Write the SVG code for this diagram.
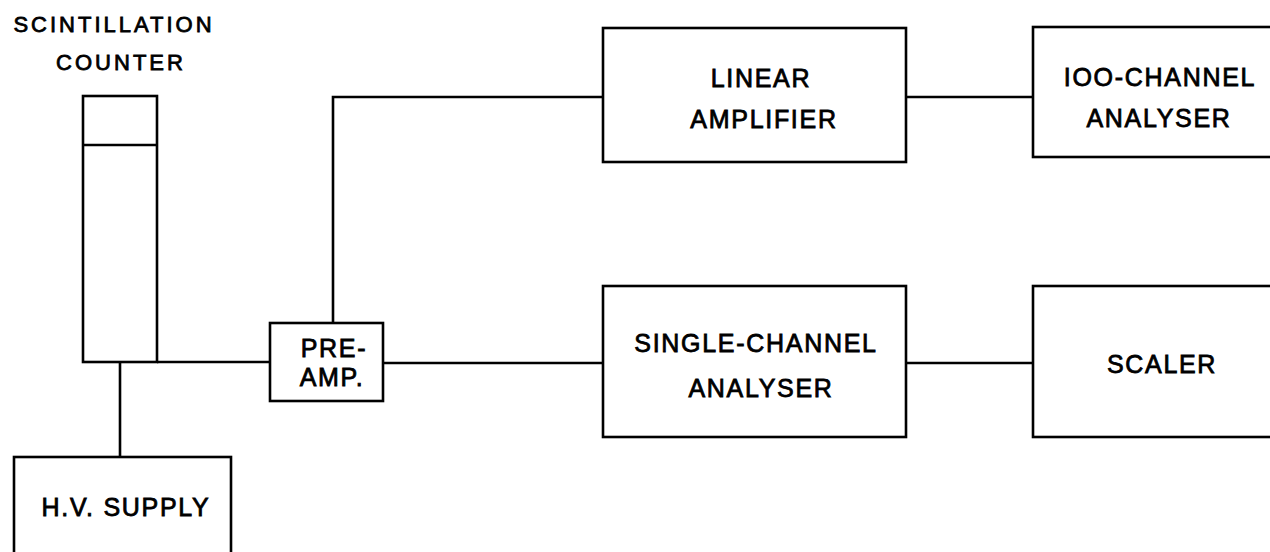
<svg xmlns="http://www.w3.org/2000/svg" width="1270" height="552" viewBox="0 0 1270 552">
<style>
.box{fill:#fff;stroke:#000;stroke-width:2.6}
.wire{fill:none;stroke:#000;stroke-width:2.6}
text{font-family:"Liberation Sans",Arial,sans-serif;font-size:25px;fill:#000;stroke:#000;stroke-width:0.8;text-anchor:middle;letter-spacing:1.7px}
.title{font-size:22px;letter-spacing:3px}
</style>
<rect width="1270" height="552" fill="#fff"/>
<g id="connectors">
<path class="wire" d="M157 362 H270"/>
<path class="wire" d="M120 362 V457"/>
<path class="wire" d="M333 323 V97 H603"/>
<path class="wire" d="M383 363 H603"/>
<path class="wire" d="M906 97 H1033"/>
<path class="wire" d="M906 363 H1033"/>
</g>
<g id="counter">
<rect class="box" x="83" y="96" width="74" height="266"/>
<line class="wire" x1="83" y1="145" x2="157" y2="145"/>
<text class="title" x="114" y="32">SCINTILLATION</text>
<text class="title" x="121" y="70">COUNTER</text>
</g>
<g id="hv">
<rect class="box" x="14" y="457" width="217" height="110"/>
<text x="126" y="516">H.V. SUPPLY</text>
</g>
<g id="preamp">
<rect class="box" x="270" y="323" width="113" height="78"/>
<text x="334" y="357">PRE-</text>
<text x="332" y="386">AMP.</text>
</g>
<g id="linear">
<rect class="box" x="603" y="28" width="303" height="134"/>
<text x="761" y="87">LINEAR</text>
<text x="764" y="128">AMPLIFIER</text>
</g>
<g id="mca">
<rect class="box" x="1033" y="27" width="260" height="130"/>
<text x="1160" y="86">IOO-CHANNEL</text>
<text x="1159" y="127">ANALYSER</text>
</g>
<g id="sca">
<rect class="box" x="603" y="286" width="303" height="151"/>
<text x="756" y="352">SINGLE-CHANNEL</text>
<text x="761" y="397">ANALYSER</text>
</g>
<g id="scaler">
<rect class="box" x="1033" y="286" width="260" height="151"/>
<text x="1162" y="373">SCALER</text>
</g>
</svg>
